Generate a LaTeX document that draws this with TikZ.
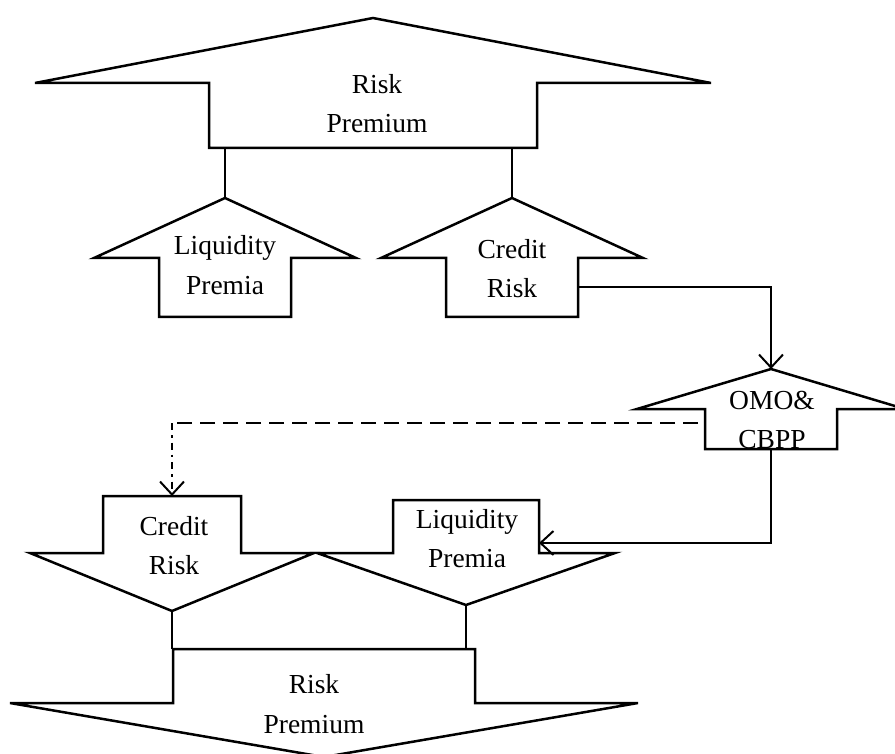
\documentclass[tikz,border=0pt]{standalone}
\usepackage{fontspec}
\setmainfont{Liberation Serif}
\usetikzlibrary{arrows.meta,calc}

% Block arrow outline: name, centre x, tip y, barb y, end y, half head width, half shaft width
\newcommand\BlockArrow[7]{%
  \draw[shapeline] (#2,#3) -- (#2+#6,#4) -- (#2+#7,#4) -- (#2+#7,#5)
    -- (#2-#7,#5) -- (#2-#7,#4) -- (#2-#6,#4) -- cycle;
  \coordinate (#1-tip) at (#2,#3);
  \coordinate (#1-end) at (#2,#5);
  \coordinate (#1-sr) at (#2+#7,{(#4+#5)/2});
  \coordinate (#1-sl) at (#2-#7,{(#4+#5)/2});
}

\tikzset{
  shapeline/.style={line width=2.5pt, line join=miter, black},
  link/.style={line width=2pt, black},
  tip/.style={-{Straight Barb[length=13pt,width=24pt]}},
  dashlink/.style={link, dash pattern=on 15pt off 8pt},
  dotlink/.style={link, dash pattern=on 7pt off 5pt on 2.5pt off 5pt},
  label/.style={anchor=base, inner sep=0pt, font=\fontsize{27.5}{33}\selectfont}
}

\begin{document}
\begin{tikzpicture}[x=1pt, y=-1pt]
  \fill[white] (0,0) rectangle (895,754);
  \useasboundingbox (0,0) rectangle (895,754);

  % upper group: risk premium split into its two parts
  \BlockArrow{RPa}{373}{18}{83}{148}{338}{164}
  \BlockArrow{LPa}{225}{198}{258}{317}{131}{66}
  \BlockArrow{CRa}{512}{198}{258}{317}{131}{66}
  \node[label] (rpa1) at (377,94) {Risk};
  \node[label] (rpa2) at (377,133) {Premium};
  \node[label] (lpa1) at (225,255) {Liquidity};
  \node[label] (lpa2) at (225,295) {Premia};
  \node[label] (cra1) at (512,259) {Credit};
  \node[label] (cra2) at (512,298) {Risk};

  % policy block
  \BlockArrow{OMO}{771}{369}{409}{449}{134}{66}
  \node[label] (omo1) at (772,409) {OMO\&};
  \node[label] (omo2) at (772,448) {CBPP};

  % lower group: both parts pushed down
  \BlockArrow{CRb}{172}{611}{553}{496}{142}{69}
  \BlockArrow{LPb}{466}{605}{553}{500}{149}{73}
  \BlockArrow{RPb}{324}{757}{703}{649}{314}{151}
  \node[label] (crb1) at (174,535) {Credit};
  \node[label] (crb2) at (174,574) {Risk};
  \node[label] (lpb1) at (467,528) {Liquidity};
  \node[label] (lpb2) at (467,567) {Premia};
  \node[label] (rpb1) at (314,693) {Risk};
  \node[label] (rpb2) at (314,733) {Premium};

  % connectors
  \draw[link] (LPa-tip) -- (LPa-tip |- RPa-end);
  \draw[link] (CRa-tip) -- (CRa-tip |- RPa-end);
  \draw[link, tip] (CRa-sr) -| (OMO-tip);

  \coordinate (LPb-in) at (539,543);
  \draw[link, tip] (OMO-end) |- (LPb-in);

  \coordinate (omo-out) at (698,423);
  \coordinate (bend) at (CRb-end |- omo-out);
  \draw[dashlink] (omo-out) -- (bend);
  \draw[dotlink, tip] (bend) -- (CRb-end);

  \draw[link] (CRb-tip) -- (CRb-tip |- RPb-end);
  \draw[link] (LPb-tip) -- (LPb-tip |- RPb-end);
\end{tikzpicture}
\end{document}
